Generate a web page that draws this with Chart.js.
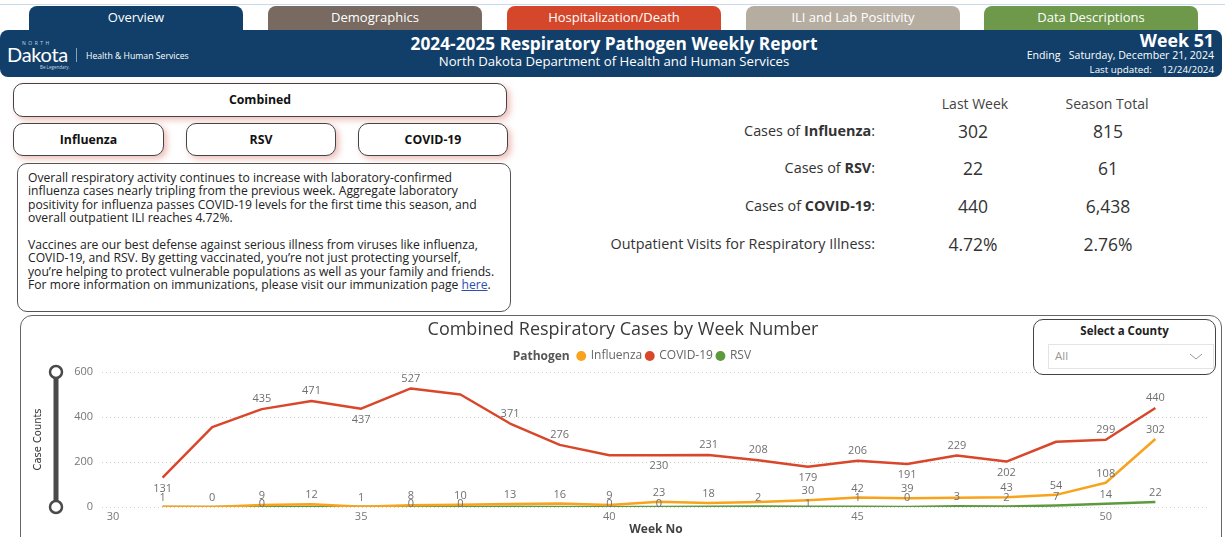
<!DOCTYPE html>
<html>
<head>
<meta charset="utf-8">
<script src="https://cdn.jsdelivr.net/npm/chart.js@4.4.1/dist/chart.umd.min.js"></script>
<style>
body{margin:0;width:1225px;height:537px;overflow:hidden;background:#fff;font-family:"Open Sans",sans-serif;position:relative;color:#333}
.abs{position:absolute}
.topline{left:0;top:4px;width:1225px;height:1px;background:#c7daee}
.tab{top:6px;height:24px;width:214px;border-radius:8px 8px 0 0;color:#fff;font-size:13px;text-align:center;line-height:22px}
.hdr{left:0;top:30px;width:1222px;height:47px;background:#123f69;border-radius:8px;color:#fff}
.btn{border:1px solid #444;border-radius:10px;background:#fff;font-weight:bold;font-size:12.3px;text-align:center;box-shadow:3px 3px 6px rgba(215,110,100,.45);color:#111}
.note{left:17px;top:163px;width:482px;height:140px;border:1px solid #555;border-radius:10px;padding:7px 0 0 10px;font-size:12.15px;line-height:13.4px;white-space:nowrap;color:#222}
.note a{color:#2b4fb0;text-decoration:underline}
.lbl{width:400px;text-align:right;font-size:14.4px;color:#333}
.val{width:120px;text-align:center;font-size:17.5px;color:#333}
.colh{width:160px;text-align:center;font-size:14px;color:#444}
.card{left:20px;top:315px;width:1200px;height:240px;border:1.5px solid #666;border-radius:12px}
.county{left:1033px;top:319px;width:181px;height:54px;border:1px solid #444;border-radius:10px;background:#fff;z-index:3}
</style>
</head>
<body>
<div class="abs topline"></div>
<div class="abs tab" style="left:29px;background:#123f69">Overview</div>
<div class="abs tab" style="left:268px;background:#786a60">Demographics</div>
<div class="abs tab" style="left:507px;background:#d5472a">Hospitalization/Death</div>
<div class="abs tab" style="left:746px;background:#b6ada1">ILI and Lab Positivity</div>
<div class="abs tab" style="left:984px;background:#6e984a">Data Descriptions</div>

<div class="abs hdr">
  <div class="abs" style="left:22px;top:10px;font-size:5px;letter-spacing:2.5px;color:#c9d6e4">NORTH</div>
  <div class="abs" style="left:7px;top:13px;font-family:Lato,sans-serif;font-size:20px;line-height:22px;letter-spacing:-0.3px">Dakota</div>
  <div class="abs" style="left:40px;top:34px;font-size:4.5px;color:#c9d6e4">Be Legendary.</div>
  <div class="abs" style="left:76px;top:18px;width:1px;height:14px;background:#8aa3bd"></div>
  <div class="abs" style="left:86px;top:20px;font-size:8.7px">Health &amp; Human Services</div>
  <div class="abs" style="left:264px;top:2px;width:700px;text-align:center;font-weight:bold;font-size:17.3px">2024-2025 Respiratory Pathogen Weekly Report</div>
  <div class="abs" style="left:264px;top:22px;width:700px;text-align:center;font-size:13.2px">North Dakota Department of Health and Human Services</div>
  <div class="abs" style="right:8px;top:-2px;font-weight:bold;font-size:17.8px">Week 51</div>
  <div class="abs" style="right:8px;top:18px;font-size:10.6px">Ending&nbsp;&nbsp;&nbsp;Saturday, December 21, 2024</div>
  <div class="abs" style="right:8px;top:33px;font-size:9.8px">Last updated:&nbsp;&nbsp;&nbsp;&nbsp;12/24/2024</div>
</div>

<div class="abs btn" style="left:13px;top:83px;width:492px;height:32px;line-height:32px">Combined</div>
<div class="abs btn" style="left:13px;top:123px;width:149px;height:31px;line-height:31px">Influenza</div>
<div class="abs btn" style="left:186px;top:123px;width:148px;height:31px;line-height:31px">RSV</div>
<div class="abs btn" style="left:358px;top:123px;width:148px;height:31px;line-height:31px">COVID-19</div>

<div class="abs note">Overall respiratory activity continues to increase with laboratory-confirmed<br>influenza cases nearly tripling from the previous week. Aggregate laboratory<br>positivity for influenza passes COVID-19 levels for the first time this season, and<br>overall outpatient ILI reaches 4.72%.<br><br>Vaccines are our best defense against serious illness from viruses like influenza,<br>COVID-19, and RSV. By getting vaccinated, you’re not just protecting yourself,<br>you’re helping to protect vulnerable populations as well as your family and friends.<br>For more information on immunizations, please visit our immunization page <a>here</a>.</div>

<div class="abs colh" style="left:895px;top:94px">Last Week</div>
<div class="abs colh" style="left:1027px;top:94px">Season Total</div>
<div class="abs lbl" style="left:475px;top:121px">Cases of <b>Influenza</b>:</div>
<div class="abs lbl" style="left:475px;top:158px">Cases of <b>RSV</b>:</div>
<div class="abs lbl" style="left:475px;top:196px">Cases of <b>COVID-19</b>:</div>
<div class="abs lbl" style="left:475px;top:234px">Outpatient Visits for Respiratory Illness:</div>
<div class="abs val" style="left:913px;top:119px">302</div>
<div class="abs val" style="left:1048px;top:119px">815</div>
<div class="abs val" style="left:913px;top:156px">22</div>
<div class="abs val" style="left:1048px;top:156px">61</div>
<div class="abs val" style="left:913px;top:194px">440</div>
<div class="abs val" style="left:1048px;top:194px">6,438</div>
<div class="abs val" style="left:913px;top:232px">4.72%</div>
<div class="abs val" style="left:1048px;top:232px">2.76%</div>

<div class="abs card"></div>
<canvas id="casesChart" class="abs" style="left:20px;top:315px" width="1202" height="222"></canvas>
<div class="abs county">
  <div class="abs" style="left:0;top:3px;width:181px;text-align:center;font-weight:bold;font-size:11.5px;color:#222">Select a County</div>
  <div class="abs" style="left:14px;top:24px;width:164px;height:23px;border:1px solid #e4e4e4;background:#fff">
    <span class="abs" style="left:6px;top:3px;font-size:11.5px;color:#999">All</span>
    <svg class="abs" style="left:140px;top:8px" width="14" height="8"><polyline points="1,1 7,6 13,1" fill="none" stroke="#999" stroke-width="1"/></svg>
  </div>
</div>

<script>
// weekly case counts, MMWR weeks 31-51
const weeks = [31, 32, 33, 34, 35, 36, 37, 38, 39, 40, 41, 42, 43, 44, 45, 46, 47, 48, 49, 50, 51];
const influenza = [1, 0, 9, 12, 1, 8, 10, 13, 16, 9, 23, 18, 22, 30, 42, 39, 41, 43, 54, 108, 302];
const covid = [131, 355, 435, 471, 437, 527, 500, 371, 276, 230, 230, 231, 208, 179, 206, 191, 229, 202, 290, 299, 440];
const rsv = [0, 0, 0, 0, 1, 0, 0, 1, 0, 0, 0, 1, 2, 1, 1, 0, 3, 2, 7, 14, 22];
const xTicks = [30, 35, 40, 45, 50];
const yTicks = [0, 200, 400, 600];

// where each point's value label sits (px from point, null = not shown)
const covidLabelPos = [11, null, -10, -10, 11, -10, null, -10, -10, null, 11, -10, -10, 11, -10, 11, -10, 11, null, -10, -10];
const fluLabelPos = [-9, -9, -9, -9, -9, -9, -9, -9, -9, -9, -9, -9, null, -9, -9, -9, null, -9, -9, -9, -9];
const rsvLabelPos = [null, null, -3, null, null, -3, -3, null, null, -3, -3, null, -9, -3, -9, -9, -9, -9, -9, -9, -9];

const fluColor = '#f8a31b';
const covidColor = '#d9472b';
const rsvColor = '#5d9a3d';

Chart.defaults.font.family = '"Open Sans", sans-serif';

function series(values) {
    return weeks.map(function(w, i) { return {x: w, y: values[i]}; });
}

var valueLabels = {
    id: 'valueLabels',
    afterDatasetsDraw: function(chart) {
        var ctx = chart.ctx;
        ctx.save();
        ctx.font = '11px "Open Sans", sans-serif';
        ctx.fillStyle = '#707070';
        ctx.textAlign = 'center';
        ctx.textBaseline = 'middle';
        chart.data.datasets.forEach(function(ds, di) {
            var meta = chart.getDatasetMeta(di);
            ds.labelPos.forEach(function(off, i) {
                if (off === null) return;
                var p = meta.data[i];
                ctx.fillText(String(ds.data[i].y), p.x, p.y + off);
            });
        });
        ctx.restore();
    }
};

// the little range slider next to the y axis, and the bold legend title
var extras = {
    id: 'extras',
    afterDraw: function(chart) {
        var ctx = chart.ctx;
        var y = chart.scales.y;
        var x = chart.chartArea.left - 46;
        var top = y.getPixelForValue(600), bottom = y.getPixelForValue(0);
        ctx.save();
        ctx.strokeStyle = '#4a4a4a';
        ctx.lineWidth = 5;
        ctx.beginPath(); ctx.moveTo(x, top); ctx.lineTo(x, bottom); ctx.stroke();
        ctx.lineWidth = 2.5;
        ctx.fillStyle = '#fff';
        [top, bottom].forEach(function(cy) {
            ctx.beginPath(); ctx.arc(x, cy, 6, 0, Math.PI * 2); ctx.fill(); ctx.stroke();
        });
        var hb = chart.legend.legendHitBoxes[0];
        ctx.font = 'bold 12px "Open Sans", sans-serif';
        ctx.fillStyle = '#555';
        ctx.textAlign = 'right';
        ctx.textBaseline = 'middle';
        ctx.fillText('Pathogen', hb.left + hb.width - 4, hb.top + hb.height / 2 + 1);
        ctx.restore();
    }
};

new Chart(document.getElementById('casesChart'), {
    type: 'line',
    data: {
        datasets: [
            {label: 'Influenza', data: series(influenza), borderColor: fluColor, backgroundColor: fluColor, labelPos: fluLabelPos},
            {label: 'COVID-19', data: series(covid), borderColor: covidColor, backgroundColor: covidColor, labelPos: covidLabelPos},
            {label: 'RSV', data: series(rsv), borderColor: rsvColor, backgroundColor: rsvColor, labelPos: rsvLabelPos}
        ]
    },
    options: {
        responsive: false,
        animation: false,
        layout: {padding: {left: 16, right: 12, top: 0, bottom: 0}},
        elements: {
            point: {radius: 0},
            line: {borderWidth: 2.5, tension: 0, borderJoinStyle: 'round'}
        },
        plugins: {
            tooltip: {enabled: false},
            title: {
                display: true,
                text: 'Combined Respiratory Cases by Week Number',
                color: '#3a3a3a',
                font: {size: 18, weight: 'normal'},
                padding: {top: 4, bottom: 5.4}
            },
            legend: {
                display: true,
                labels: {
                    usePointStyle: true,
                    pointStyle: 'circle',
                    boxWidth: 7,
                    boxHeight: 7,
                    padding: 4,
                    color: '#666',
                    font: {size: 12},
                    generateLabels: function(chart) {
                        var items = Chart.defaults.plugins.legend.labels.generateLabels(chart);
                        items.forEach(function(it) { it.lineWidth = 0; it.fontColor = '#666'; });
                        return [{text: 'Pathogen    ', fillStyle: 'rgba(0,0,0,0)', strokeStyle: 'rgba(0,0,0,0)', lineWidth: 0,
                                 pointStyle: 'circle', hidden: false, fontColor: 'rgba(0,0,0,0)', datasetIndex: null}].concat(items);
                    }
                },
                onClick: function() {}
            }
        },
        scales: {
            x: {
                type: 'linear',
                min: 29.78,
                max: 52.1,
                afterBuildTicks: function(scale) { scale.ticks = xTicks.map(function(v) { return {value: v}; }); },
                afterFit: function(scale) { scale.height = 30; },
                grid: {display: false, drawTicks: false},
                border: {display: false},
                ticks: {color: '#777', font: {size: 11}, padding: 3, maxRotation: 0},
                title: {display: true, text: 'Week No', color: '#444', font: {size: 12, weight: 'bold'}, padding: {top: 0, bottom: 0}}
            },
            y: {
                min: 0,
                max: 600,
                afterBuildTicks: function(scale) { scale.ticks = yTicks.map(function(v) { return {value: v}; }); },
                afterFit: function(scale) { scale.width = 66; },
                grid: {color: '#cfcfcf', lineWidth: 1, drawTicks: false},
                border: {display: false, dash: [1, 3]},
                ticks: {color: '#777', font: {size: 11}, padding: 9},
                title: {display: true, text: 'Case Counts', color: '#333',
                        font: {family: '"Liberation Sans Narrow", "DejaVu Sans Condensed", sans-serif', size: 11, lineHeight: 1},
                        padding: {top: -3, bottom: 0}}
            }
        }
    },
    plugins: [valueLabels, extras]
});
</script>
</body>
</html>
